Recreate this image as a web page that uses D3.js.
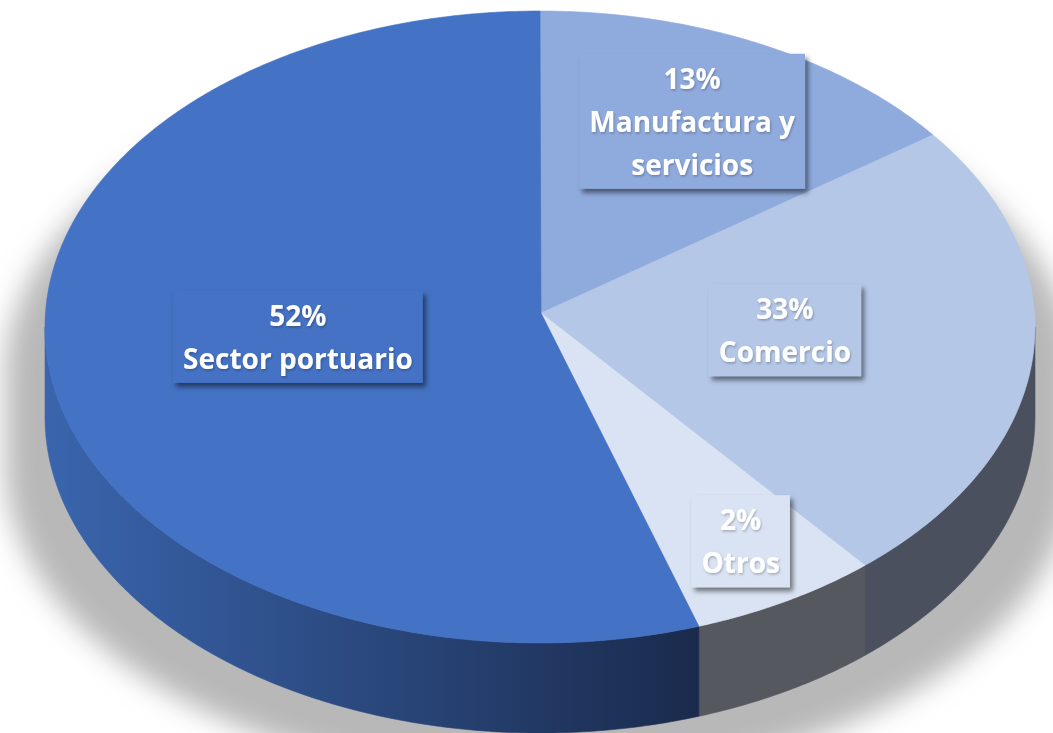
<!DOCTYPE html>
<html><head><meta charset="utf-8">
<script src="https://cdn.jsdelivr.net/npm/d3@7"></script>
<style>html,body{margin:0;padding:0;background:#fff;} svg{display:block;}</style>
</head><body>
<svg id="chart" width="1053" height="733"></svg>
<script>
// ---- data ----
const categories = ["Manufactura y servicios", "Comercio", "Otros", "Sector portuario"];
const percentLabels = ["13%", "33%", "2%", "52%"];
// slice sizes as drawn in the picture (share of the full turn, %)
const sliceShares = [14.6, 24.0, 6.2, 55.2];
// category names broken into label lines
const nameLines = [["Manufactura y", "servicios"], ["Comercio"], ["Otros"], ["Sector portuario"]];

// ---- style / layout ----
const topColors = ["#8FAADC", "#B4C7E7", "#DAE3F3", "#4472C4"];
const sideColors = ["#4b505e", "#4b505e", "#55585f", "url(#sideBlue)"];
const labelLayout = [{f: 0.72, dt: -1}, {f: 0.495, dt: -4.6}, {f: 0.79, dt: -1}, {f: 0.49, dt: 5.7}];

const W = 1053, H = 733;
const cx = 540, cy = 327, rx = 495, ry = 316, depth = 90;
const apex = [541, 313];
const fontSize = 28, lineH = 43;

const svg = d3.select("#chart");
const defs = svg.append("defs");

const grad = defs.append("linearGradient").attr("id", "sideBlue")
  .attr("gradientUnits", "userSpaceOnUse").attr("x1", 45).attr("x2", 700).attr("y1", 0).attr("y2", 0);
grad.append("stop").attr("offset", 0).attr("stop-color", "#3a65ad");
grad.append("stop").attr("offset", 1).attr("stop-color", "#1a2a4c");

const blur = defs.append("filter").attr("id", "pieShadow").attr("x", "-20%").attr("y", "-20%").attr("width", "140%").attr("height", "140%");
blur.append("feGaussianBlur").attr("stdDeviation", 14);

const boxShadow = defs.append("filter").attr("id", "boxShadow").attr("x", "-20%").attr("y", "-20%").attr("width", "140%").attr("height", "150%");
boxShadow.append("feDropShadow").attr("dx", 3).attr("dy", 4).attr("stdDeviation", 2.5)
  .attr("flood-color", "#000").attr("flood-opacity", 0.5);

const textShadow = defs.append("filter").attr("id", "textShadow").attr("x", "-10%").attr("y", "-10%").attr("width", "120%").attr("height", "130%");
textShadow.append("feDropShadow").attr("dx", 1).attr("dy", 1.5).attr("stdDeviation", 1)
  .attr("flood-color", "#000").attr("flood-opacity", 0.25);

// angle -> point on the projected rim (t = 0 at top, clockwise)
const P = (t, dz = 0) => [cx + rx * Math.sin(t), cy - ry * Math.cos(t) + dz];
function arcPts(a0, a1, dz = 0) {
  const n = Math.max(2, Math.ceil(Math.abs(a1 - a0) / 0.01));
  return d3.range(n + 1).map(i => P(a0 + (a1 - a0) * i / n, dz));
}
const line = d3.line();

const pie = d3.pie().sort(null).value(d => d)(sliceShares);

// shadow on the floor
const shadowPts = arcPts(-Math.PI / 2, Math.PI / 2, 0).concat(arcPts(Math.PI / 2, 1.5 * Math.PI, depth));
svg.append("g").attr("filter", "url(#pieShadow)")
  .append("path")
  .attr("d", line(shadowPts) + "Z")
  .attr("fill", "#b8b8b8")
  .attr("transform", `translate(${cx},${cy + 48}) scale(1.08,1.0) translate(${-cx},${-cy})`);

// side walls (front half only)
const sides = svg.append("g");
pie.forEach((s, i) => {
  const s0 = Math.max(s.startAngle, Math.PI / 2), s1 = Math.min(s.endAngle, 1.5 * Math.PI);
  if (s0 >= s1) return;
  const pts = arcPts(s0, s1, 0).concat(arcPts(s1, s0, depth));
  sides.append("path").attr("d", line(pts) + "Z").attr("fill", sideColors[i])
    .attr("stroke", sideColors[i]).attr("stroke-width", 0.6);
});

// top face
const tops = svg.append("g");
pie.forEach((s, i) => {
  const pts = [apex].concat(arcPts(s.startAngle, s.endAngle, 0));
  tops.append("path").attr("d", line(pts) + "Z").attr("fill", topColors[i])
    .attr("stroke", topColors[i]).attr("stroke-width", 0.6);
});

// labels
const labels = svg.append("g");
pie.forEach((s, i) => {
  const lay = labelLayout[i];
  const t = (s.startAngle + s.endAngle) / 2 + lay.dt * Math.PI / 180;
  const x = cx + lay.f * rx * Math.sin(t), y = cy - lay.f * ry * Math.cos(t);
  const lines = [percentLabels[i]].concat(nameLines[i]);
  const g = labels.append("g").attr("transform", `translate(${x},${y})`);
  const rect = g.append("rect").attr("fill", topColors[i]).attr("filter", "url(#boxShadow)");
  const txt = g.append("text")
    .attr("text-anchor", "middle")
    .attr("font-family", "'Open Sans', sans-serif")
    .attr("font-weight", 700)
    .attr("font-size", fontSize)
    .attr("fill", "#fff")
    .attr("filter", "url(#textShadow)");
  const n = lines.length;
  lines.forEach((l, k) => {
    txt.append("tspan").attr("x", 0).attr("y", (k - (n - 1) / 2) * lineH + 10.5).text(l);
  });
  const bw = txt.node().getBBox().width + 20;
  const bh = n * lineH + 6;
  rect.attr("x", -bw / 2).attr("y", -bh / 2).attr("width", bw).attr("height", bh);
});
</script>
</body></html>
